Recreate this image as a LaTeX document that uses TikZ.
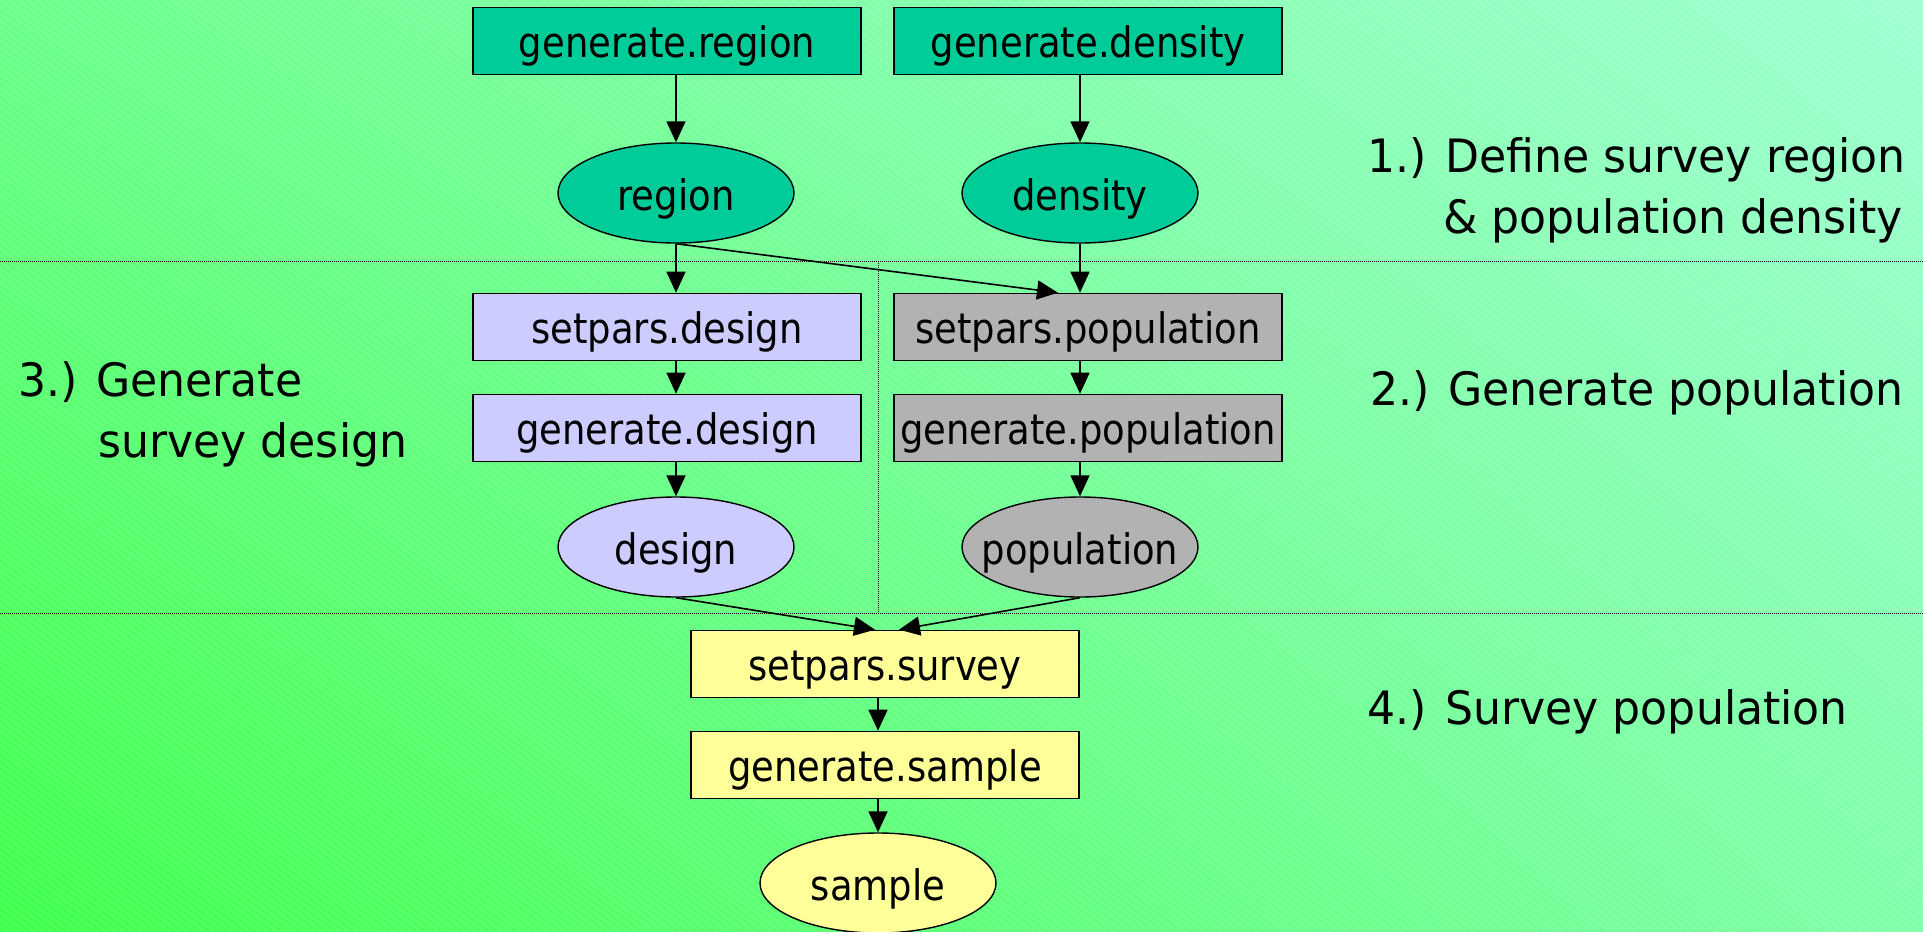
\documentclass[tikz,border=0pt]{standalone}
\usepackage{fontspec}
\setmainfont{DejaVu Sans}
\newfontfamily\boxfont[FakeStretch=0.88]{DejaVu Sans}
\newfontfamily\stepfont[FakeStretch=0.96]{DejaVu Sans}
\usetikzlibrary{shapes.geometric, arrows.meta, shadings}

\definecolor{regteal}{HTML}{00CC99}
\definecolor{deslilac}{HTML}{CCCCFF}
\definecolor{popgray}{HTML}{B2B2B2}
\definecolor{survyellow}{HTML}{FFFF99}
\definecolor{bgul}{HTML}{6CFF8C}
\definecolor{bgur}{HTML}{A0FFD2}
\definecolor{bgll}{HTML}{40FF4C}
\definecolor{bglr}{HTML}{80FFAA}

% ellipse keeps its own size, whatever the text
\newcommand{\objtext}[1]{\makebox[0pt]{#1}}

\tikzset{
  fn/.style={draw=black, line width=1.6pt, minimum width=388pt, minimum height=67pt,
    inner sep=0pt, text height=42pt, text depth=10pt,
    font=\boxfont\fontsize{42}{48}\selectfont},
  obj/.style={ellipse, draw=black, line width=1.4pt, minimum width=236pt,
    minimum height=100pt, inner sep=0pt, text height=44pt, text depth=10pt,
    font=\boxfont\fontsize{42}{48}\selectfont},
  flow/.style={line width=1.6pt, -{Triangle[length=21pt,width=19pt]}},
  sep/.style={densely dotted, line width=1pt},
  steplabel/.style={font=\stepfont\fontsize{46}{61}\selectfont, align=left,
    anchor=west, inner sep=0pt},
}

\begin{document}
\begin{tikzpicture}[x=1pt, y=-1pt]
  \useasboundingbox (0,0) rectangle (1923,932);
  % background
  \shade[upper left=bgul, upper right=bgur, lower left=bgll, lower right=bglr]
    (0,0) rectangle (1923,932);
  \begin{scope}
    \clip (0,0) rectangle (1923,932);
    \foreach \s in {-1260,-1251,...,1923}
      \draw[white, opacity=0.18, line width=0.7pt] (\s,0) -- ++(1250,932);
  \end{scope}

  % stage separators
  \draw[sep] (0,261) -- (1923,261);
  \draw[sep] (0,613) -- (1923,613);
  \draw[sep] (878,261) -- (878,613);

  % 1.) region and density
  \node[fn, fill=regteal] (genreg) at (667,41) {generate.region};
  \node[fn, fill=regteal] (gendens) at (1088,41) {generate.density};
  \node[obj, fill=regteal] (region) at (676,193) {\objtext{region}};
  \node[obj, fill=regteal] (density) at (1080,193) {\objtext{density}};

  % 3.) design
  \node[fn, fill=deslilac] (setdes) at (667,327) {setpars.design};
  \node[fn, fill=deslilac] (gendes) at (667,428) {generate.design};
  \node[obj, fill=deslilac] (design) at (676,547) {\objtext{design}};

  % 2.) population
  \node[fn, fill=popgray] (setpop) at (1088,327) {setpars.population};
  \node[fn, fill=popgray] (genpop) at (1088,428) {generate.population};
  \node[obj, fill=popgray] (population) at (1080,547) {\objtext{population}};

  % 4.) survey
  \node[fn, fill=survyellow] (setsurv) at (885,664) {setpars.survey};
  \node[fn, fill=survyellow] (gensamp) at (885,765) {generate.sample};
  \node[obj, fill=survyellow] (sample) at (878,883) {\objtext{sample}};

  \draw[flow] (genreg.south -| region.north) -- (region.north);
  \draw[flow] (gendens.south -| density.north) -- (density.north);
  \draw[flow] (region.south) -- (setdes.north -| region.south);
  \draw[flow] (region.south) -- ([xshift=-30pt]setpop.north);
  \draw[flow] (density.south) -- (setpop.north -| density.south);
  \draw[flow] (setdes.south -| design.north) -- (gendes.north -| design.north);
  \draw[flow] (gendes.south -| design.north) -- (design.north);
  \draw[flow] (setpop.south -| population.north) -- (genpop.north -| population.north);
  \draw[flow] (genpop.south -| population.north) -- (population.north);
  \draw[flow] (design.south) -- ([xshift=-10pt]setsurv.north);
  \draw[flow] (population.south) -- ([xshift=14pt]setsurv.north);
  \draw[flow] (setsurv.south -| sample.north) -- (gensamp.north -| sample.north);
  \draw[flow] (gensamp.south -| sample.north) -- (sample.north);

  % stage labels
  \node[steplabel] (lblone) at (1367,190) {1.) Define survey region\\\hspace*{76pt}\& population density};
  \node[steplabel] (lbltwo) at (1370,393) {2.) Generate population};
  \node[steplabel] (lblthree) at (18,414) {3.) Generate\\\hspace*{80pt}survey design};
  \node[steplabel] (lblfour) at (1367,712) {4.) Survey population};
\end{tikzpicture}
\end{document}
